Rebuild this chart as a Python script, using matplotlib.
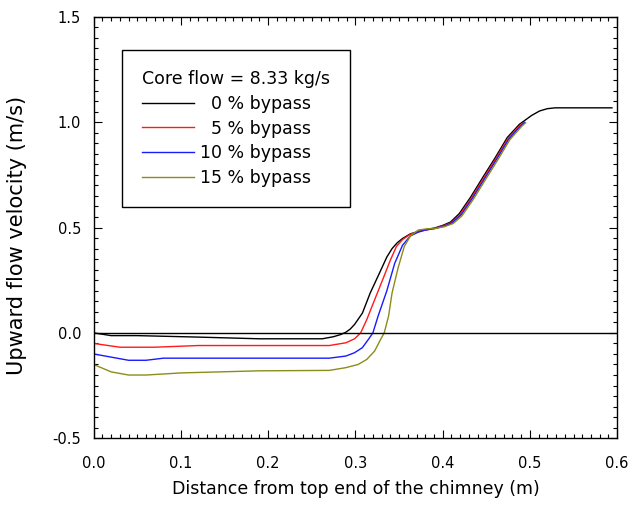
import matplotlib.pyplot as plt
from matplotlib.ticker import MultipleLocator

plt.rcParams["font.family"] = ["DejaVu Sans"]

# distance from top end of the chimney (m) and velocity (m/s)
x_0 = [0.0, 0.02, 0.05, 0.12, 0.19, 0.262, 0.275, 0.283, 0.289, 0.294, 0.299,
       0.308, 0.317, 0.326, 0.336, 0.342, 0.348, 0.354, 0.363, 0.377, 0.391,
       0.400, 0.409, 0.419, 0.432, 0.446, 0.460, 0.474, 0.488, 0.502, 0.511,
       0.520, 0.529, 0.594]
v_0 = [0.0, -0.013, -0.013, -0.02, -0.028, -0.028, -0.018, -0.008, 0.003,
       0.018, 0.04, 0.094, 0.19, 0.27, 0.36, 0.40, 0.428, 0.448, 0.47, 0.487,
       0.498, 0.51, 0.526, 0.566, 0.644, 0.738, 0.83, 0.927, 0.99, 1.032,
       1.053, 1.064, 1.068, 1.068]

x_5 = [0.0, 0.03, 0.07, 0.12, 0.27, 0.289, 0.299, 0.306, 0.313, 0.322, 0.331,
       0.340, 0.347, 0.354, 0.363, 0.372, 0.380, 0.391, 0.400, 0.410, 0.420,
       0.433, 0.447, 0.461, 0.475, 0.489, 0.494]
v_5 = [-0.05, -0.068, -0.068, -0.06, -0.06, -0.047, -0.028, 0.0, 0.063, 0.157,
       0.25, 0.345, 0.41, 0.443, 0.468, 0.48, 0.488, 0.496, 0.507, 0.523,
       0.562, 0.64, 0.734, 0.827, 0.923, 0.986, 1.0]

x_10 = [0.0, 0.02, 0.04, 0.06, 0.08, 0.27, 0.289, 0.299, 0.308, 0.315, 0.320,
        0.326, 0.336, 0.345, 0.354, 0.363, 0.372, 0.380, 0.391, 0.401, 0.411,
        0.421, 0.434, 0.448, 0.462, 0.476, 0.490, 0.494]
v_10 = [-0.1, -0.115, -0.13, -0.13, -0.12, -0.12, -0.11, -0.094, -0.07, -0.03,
        0.0, 0.08, 0.2, 0.33, 0.416, 0.46, 0.478, 0.488, 0.495, 0.506, 0.522,
        0.56, 0.638, 0.732, 0.825, 0.921, 0.985, 0.998]

x_15 = [0.0, 0.02, 0.04, 0.06, 0.10, 0.19, 0.27, 0.289, 0.303, 0.313, 0.322,
        0.329, 0.333, 0.338, 0.342, 0.349, 0.356, 0.363, 0.372, 0.382, 0.392,
        0.402, 0.412, 0.422, 0.435, 0.449, 0.463, 0.477, 0.491, 0.495]
v_15 = [-0.15, -0.185, -0.2, -0.2, -0.19, -0.18, -0.178, -0.165, -0.15, -0.126,
        -0.086, -0.03, 0.0, 0.08, 0.19, 0.31, 0.41, 0.46, 0.488, 0.494, 0.496,
        0.504, 0.519, 0.555, 0.633, 0.727, 0.82, 0.917, 0.982, 0.997]

series = [
    (x_0, v_0, "black", "  0 % bypass"),
    (x_5, v_5, "#ff1a1a", "  5 % bypass"),
    (x_10, v_10, "#1a1aff", "10 % bypass"),
    (x_15, v_15, "#8c8c1a", "15 % bypass"),
]

fig = plt.figure(figsize=(6.33, 5.09), dpi=100)
ax = fig.add_axes([0.148, 0.139, 0.827, 0.828])

for xs, vs, color, label in series:
    ax.plot(xs, vs, color=color, linewidth=1.0, label=label)

ax.axhline(0.0, color="black", linewidth=1.0)

ax.set_xlim(0.0, 0.6)
ax.set_ylim(-0.5, 1.5)
ax.xaxis.set_major_locator(MultipleLocator(0.1))
ax.xaxis.set_minor_locator(MultipleLocator(0.01))
ax.yaxis.set_major_locator(MultipleLocator(0.5))
ax.yaxis.set_minor_locator(MultipleLocator(0.05))
ax.tick_params(which="both", direction="in", top=True, right=True,
               labelsize=10.5, width=0.8)
ax.tick_params(which="major", length=6)
ax.tick_params(which="minor", length=3)
ax.tick_params(axis="x", pad=13)
ax.tick_params(axis="y", pad=9)
ax.xaxis.set_major_formatter(plt.FuncFormatter(lambda v, p: f"{v:.1f}"))
ax.yaxis.set_major_formatter(plt.FuncFormatter(lambda v, p: f"{v:.1f}"))
for s in ax.spines.values():
    s.set_linewidth(1.0)

ax.set_xlabel("Distance from top end of the chimney (m)", fontsize=12.5)
ax.set_ylabel("Upward flow velocity (m/s)", fontsize=15)
ax.xaxis.set_label_coords(0.5, -0.1)
ax.yaxis.set_label_coords(-0.128, 0.482)

leg = ax.legend(loc="upper left", bbox_to_anchor=(0.055, 0.922),
                borderaxespad=0, title="Core flow = 8.33 kg/s", fontsize=12.5,
                title_fontsize=12.5, handlelength=2.95, handletextpad=0.35,
                labelspacing=0.4, borderpad=1.15, fancybox=False,
                framealpha=1, edgecolor="black", alignment="left")
leg.get_frame().set_linewidth(1.0)

fig.savefig("out.png", dpi=100)
